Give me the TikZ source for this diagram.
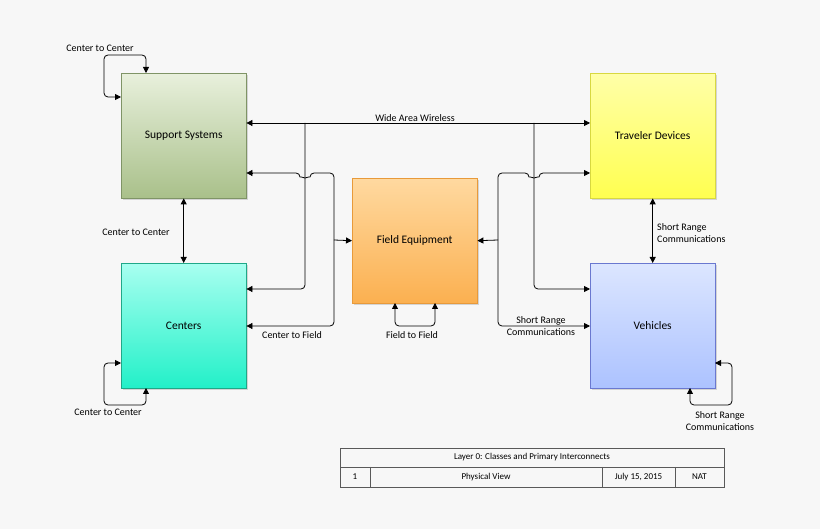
\documentclass[tikz,border=0pt]{standalone}
\usepackage{fontspec}
\setmainfont{Carlito}
\usetikzlibrary{arrows.meta,shadows}
\definecolor{gA}{HTML}{E8F0DC}\definecolor{gB}{HTML}{A9C08A}\definecolor{gD}{HTML}{7F9466}
\definecolor{tA}{HTML}{A8FFF0}\definecolor{tB}{HTML}{22F0C8}\definecolor{tD}{HTML}{1FA888}
\definecolor{oA}{HTML}{FFD9A0}\definecolor{oB}{HTML}{FBB050}\definecolor{oD}{HTML}{E89A3A}
\definecolor{yA}{HTML}{FFFFA8}\definecolor{yB}{HTML}{FFFF50}\definecolor{yD}{HTML}{D8D840}
\definecolor{bA}{HTML}{DCE6FF}\definecolor{bB}{HTML}{ACC2FF}\definecolor{bD}{HTML}{6A78D0}
\begin{document}
\begin{tikzpicture}[x=1pt,y=-1pt,
  box/.style={draw=#1,minimum width=125pt,minimum height=125pt,anchor=north west,font=\fontsize{11.5}{13}\selectfont,drop shadow={shadow xshift=2pt,shadow yshift=-2pt,fill=black!30}},
  ln/.style={line width=0.8pt,rounded corners=4pt},
  lab/.style={font=\fontsize{10}{11.5}\selectfont,inner sep=1pt},
  arr/.style={-{Triangle[length=6pt,width=6pt]}},
  darr/.style={{Triangle[length=6pt,width=6pt]}-{Triangle[length=6pt,width=6pt]}}]
\fill[black!3] (0,0) rectangle (820,529);
\useasboundingbox (0,0) rectangle (820,529);
\node[box=gD,top color=gA,bottom color=gB] (ss) at (121,73) {Support Systems};
\node[box=tD,top color=tA,bottom color=tB] (ce) at (121,263) {Centers};
\node[box=oD,top color=oA,bottom color=oB] (fe) at (352,178) {Field Equipment};
\node[box=yD,top color=yA,bottom color=yB] (td) at (590,73) {Traveler Devices};
\node[box=bD,top color=bA,bottom color=bB] (ve) at (590,263) {Vehicles};
% wide area
\draw[ln,darr] (ss.north east|-0,123) -- (td.north west|-0,123);
\node[lab,above] (waw) at (415,123) {Wide Area Wireless};
\draw[ln,arr] (305,123) -- (305,289) -- (ce.north east|-0,289);
\draw[ln,arr] (534,123) -- (534,289) -- (ve.north west|-0,289);
% to field equipment, left
\draw[line width=0.8pt,arr] (ss.north east|-0,173) ++(6,0) -- (ss.north east|-0,173);
\draw[line width=0.8pt,rounded corners=4pt] (252,173) -- (300,173) arc[start angle=180,end angle=0,radius=5] -- (334,173) -- (334,240);
\draw[ln,arr] (334,240) -- (fe.west);
\draw[ln,arr] (334,240) -- (334,326) -- (ce.north east|-0,326);
\node[lab] (ctf) at (292,335) {Center to Field};
% right
\draw[line width=0.8pt,arr] (590,173) ++(-6,0) -- (590,173);
\draw[line width=0.8pt,rounded corners=4pt] (584,173) -- (539,173) arc[start angle=0,end angle=180,radius=5] -- (498,173) -- (498,240);
\draw[ln,arr] (498,240) -- (fe.east);
\draw[ln,arr] (498,240) -- (498,326) -- (ve.north west|-0,326);
\node[lab,align=center] (src) at (541,326) {Short Range\\[1pt]Communications};
% vertical links
\draw[ln,darr] (ss.south) -- (ce.north);
\node[lab] (c2c) at (136,232) {Center to Center};
\draw[ln,darr] (td.south) -- (ve.north);
\node[lab,align=left,anchor=west] (src2) at (656,233) {Short Range\\Communications};
% self loops
\draw[ln,darr] (146,73) -- (146,55) -- (104,55) -- (104,97) -- (121,97);
\node[lab] (l1) at (100,48) {Center to Center};
\draw[ln,darr] (146,388) -- (146,405) -- (104,405) -- (104,363) -- (121,363);
\node[lab] (l2) at (108,412) {Center to Center};
\draw[ln,darr] (395,303) -- (395,326) -- (435,326) -- (435,303);
\node[lab] (l3) at (412,335) {Field to Field};
\draw[ln,darr] (690,388) -- (690,405) -- (732,405) -- (732,363) -- (715,363);
\node[lab,align=center] (l4) at (720,421) {Short Range\\Communications};
% table
\begin{scope}[line width=0.6pt,draw=black!65]
\draw (340,448) rectangle (724,487);
\draw (340,467) -- (724,467);
\draw (370,467) -- (370,487) (602,467) -- (602,487) (675,467) -- (675,487);
\end{scope}
\node[lab,font=\fontsize{9}{10}\selectfont] (t0) at (532,457.5) {Layer 0: Classes and Primary Interconnects};
\node[lab,font=\fontsize{9}{10}\selectfont] (t1) at (355,477) {1};
\node[lab,font=\fontsize{9}{10}\selectfont] (t2) at (486,477) {Physical View};
\node[lab,font=\fontsize{9}{10}\selectfont] (t3) at (638.5,477) {July 15, 2015};
\node[lab,font=\fontsize{9}{10}\selectfont] (t4) at (699.5,477) {NAT};
\end{tikzpicture}
\end{document}
